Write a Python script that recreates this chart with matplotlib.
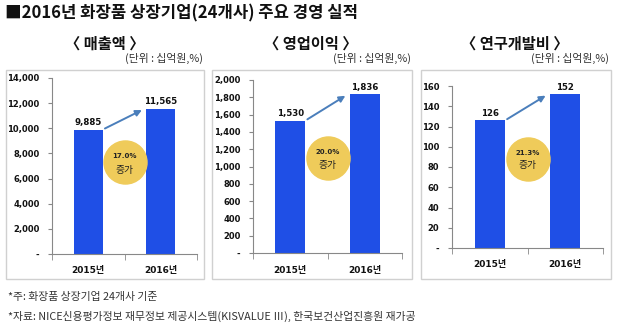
import matplotlib
matplotlib.use("Agg")
import matplotlib.pyplot as plt
from matplotlib.patches import Rectangle
from matplotlib.ticker import FuncFormatter, FixedLocator

plt.rcParams['font.family'] = ['Noto Sans CJK KR', 'DejaVu Sans']

# data
years = ['2015년', '2016년']
sales = [9885, 11565]
op_profit = [1530, 1836]
rnd = [126, 152]
growth = ['17.0%', '20.0%', '21.3%']
panel_titles = ['〈 매출액 〉', '〈 영업이익 〉', '〈 연구개발비 〉']
y_max = [14000, 2000, 160]
y_step = [2000, 200, 20]

W, H = 620, 329
BAR_COLOR = '#1F4FE6'
CIRCLE_COLOR = '#EFCB5A'
ARROW_COLOR = '#4A7EBB'
NUM_FONT = ['DejaVu Sans', 'Noto Sans CJK KR']

# pixel layout: (box x0, box x1), (axes x0, x1, y_top, y_zero), title centre, unit right edge
boxes = [(6, 204), (212, 412), (421, 611)]
axes_px = [(52, 197, 78, 254), (253, 402, 80, 253), (452, 603, 86, 248)]
title_x = [105, 311, 515]
unit_x = [203, 411, 609]
circle_y = [0.52, 0.55, 0.55]


def px_rect(x0, x1, ytop, ybot):
    return [x0 / W, 1 - ybot / H, (x1 - x0) / W, (ybot - ytop) / H]


def fmt(v, _pos=None):
    return '-' if v == 0 else f'{int(v):,}'


fig = plt.figure(figsize=(W / 100, H / 100), dpi=100)
fig.patch.set_facecolor('white')

fig.text(5 / W, 1 - 13 / H, '■2016년 화장품 상장기업(24개사) 주요 경영 실적',
         fontsize=12, fontweight='bold', va='center', ha='left', color='#111111')

series = [sales, op_profit, rnd]
for i, vals in enumerate(series):
    bx0, bx1 = boxes[i]
    fig.patches.append(Rectangle((bx0 / W, 1 - 279 / H), (bx1 - bx0) / W, (279 - 70) / H,
                                 transform=fig.transFigure, fill=False,
                                 edgecolor='#D0D0D0', linewidth=1))
    fig.text(title_x[i] / W, 1 - 44 / H, panel_titles[i], fontsize=11,
             fontweight='bold', ha='center', va='center', color='#111111')
    fig.text(unit_x[i] / W, 1 - 58 / H, '(단위 : 십억원,%)', fontsize=7.8,
             ha='right', va='center', color='#333333')

    ax = fig.add_axes(px_rect(*axes_px[i]))
    x = list(range(len(years)))
    ax.bar(x, vals, width=0.4, color=BAR_COLOR, zorder=2)
    for xi, v in zip(x, vals):
        ax.text(xi, v + y_max[i] * 0.015, f'{v:,}', ha='center', va='bottom',
                fontsize=6.2, fontweight='bold', family=NUM_FONT, color='#111111')

    ax.set_xlim(-0.5, 1.5)
    ax.set_ylim(0, y_max[i])
    ax.yaxis.set_major_locator(FixedLocator(range(0, y_max[i] + 1, y_step[i])))
    ax.yaxis.set_major_formatter(FuncFormatter(fmt))
    ax.set_xticks(x)
    ax.set_xticklabels(years)
    ax.set_xticks([-0.5, 0.5, 1.5], minor=True)
    ax.tick_params(axis='x', which='major', length=0, pad=9)
    ax.tick_params(axis='x', which='minor', length=4, color='#888888', direction='out')
    ax.tick_params(axis='y', length=3, color='#888888', pad=6)
    for lab in ax.get_xticklabels():
        lab.set_family(NUM_FONT)
        lab.set_fontweight('bold')
        lab.set_fontsize(6.5)
        lab.set_color('#111111')
    for lab in ax.get_yticklabels():
        lab.set_family(NUM_FONT)
        lab.set_fontweight('bold')
        lab.set_fontsize(6)
        lab.set_color('#111111')
    for s in ['top', 'right']:
        ax.spines[s].set_visible(False)
    for s in ['left', 'bottom']:
        ax.spines[s].set_color('#888888')
        ax.spines[s].set_linewidth(0.8)

    # growth circle
    ax.plot([0.5], [circle_y[i]], marker='o', markersize=31, color=CIRCLE_COLOR,
            transform=ax.get_xaxis_transform(), clip_on=False, zorder=3)
    ax.text(0.5, circle_y[i] + 0.035, growth[i], transform=ax.get_xaxis_transform(),
            ha='center', va='center', fontsize=5, fontweight='bold',
            family=NUM_FONT, color='#222222', zorder=4)
    ax.text(0.5, circle_y[i] - 0.04, '증가', transform=ax.get_xaxis_transform(),
            ha='center', va='center', fontsize=7, color='#222222', zorder=4)

    # growth arrow
    ax.annotate('', xy=(0.74, vals[1] * 0.99), xytext=(0.23, vals[0] * 1.01),
                arrowprops=dict(arrowstyle='-|>', color=ARROW_COLOR, lw=1.4,
                                mutation_scale=9, shrinkA=0, shrinkB=0), zorder=4)

fig.text(8 / W, 1 - 297 / H, '*주: 화장품 상장기업 24개사 기준', fontsize=7.8,
         ha='left', va='center', color='#333333')
fig.text(8 / W, 1 - 316 / H,
         '*자료: NICE신용평가정보 재무정보 제공시스템(KISVALUE Ⅲ), 한국보건산업진흥원 재가공',
         fontsize=7.8, ha='left', va='center', color='#333333')

fig.savefig('out.png', dpi=100, facecolor='white')
